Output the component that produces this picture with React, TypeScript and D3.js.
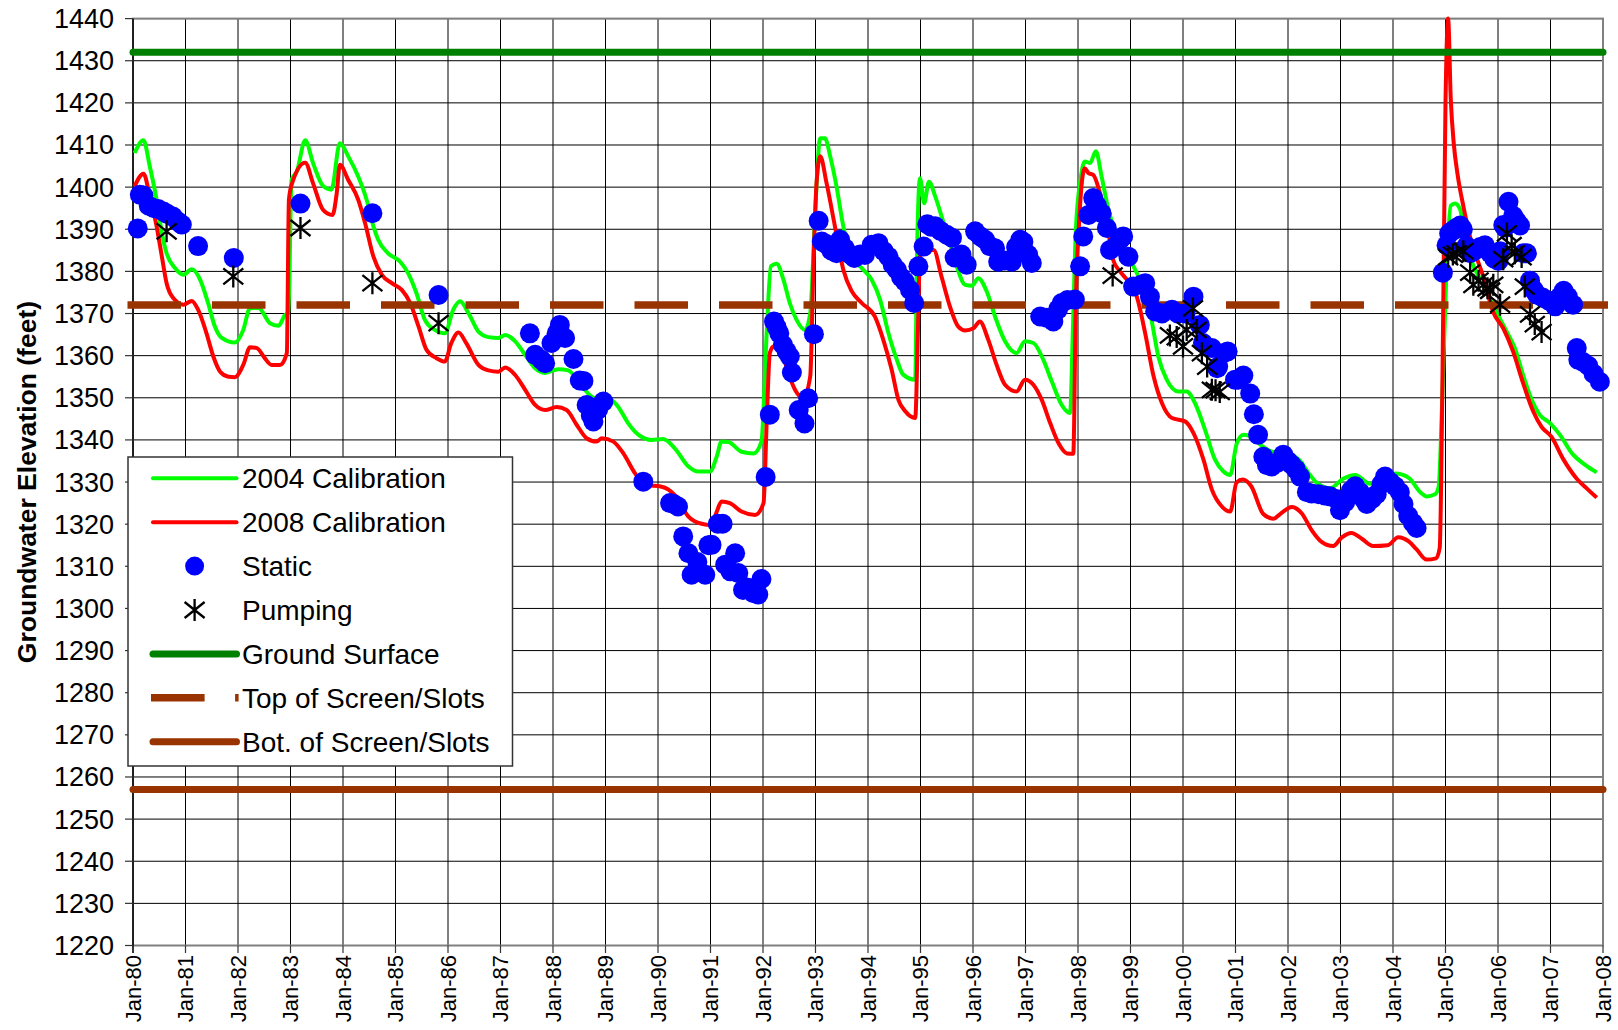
import React from "react";
import * as d3 from "d3";

const yearLabels = [
  "Jan-80", "Jan-81", "Jan-82", "Jan-83", "Jan-84", "Jan-85", "Jan-86",
  "Jan-87", "Jan-88", "Jan-89", "Jan-90", "Jan-91", "Jan-92", "Jan-93",
  "Jan-94", "Jan-95", "Jan-96", "Jan-97", "Jan-98", "Jan-99", "Jan-00",
  "Jan-01", "Jan-02", "Jan-03", "Jan-04", "Jan-05", "Jan-06", "Jan-07",
  "Jan-08",
];
const elevationTicks = [
  1220, 1230, 1240, 1250, 1260, 1270, 1280, 1290, 1300, 1310, 1320, 1330,
  1340, 1350, 1360, 1370, 1380, 1390, 1400, 1410, 1420, 1430, 1440,
];

const groundSurface = 1432;
const screenTop = 1372;
const screenBottom = 1257;

// [decimal year, elevation ft]
const calib2004: [number, number][] = [
  [1980.03, 1408.1], [1980.2, 1411.1], [1980.32, 1404.9], [1980.45, 1397.0],
  [1980.55, 1389.1], [1980.64, 1384.3], [1980.8, 1380.8], [1980.96, 1379.2],
  [1981.12, 1380.5], [1981.28, 1378.0], [1981.43, 1372.5], [1981.56, 1366.9],
  [1981.69, 1364.2], [1981.94, 1363.1], [1982.1, 1366.1], [1982.23, 1371.3],
  [1982.39, 1371.3], [1982.61, 1367.7], [1982.77, 1367.1], [1982.9, 1369.7],
  [1982.96, 1370.1], [1983.02, 1401.7], [1983.12, 1403.7], [1983.28, 1411.1],
  [1983.43, 1405.7], [1983.62, 1400.3], [1983.78, 1399.4], [1983.94, 1410.4],
  [1984.1, 1407.3], [1984.29, 1402.5], [1984.45, 1397.0], [1984.58, 1390.7],
  [1984.67, 1387.5], [1984.86, 1384.3], [1985.09, 1382.3], [1985.24, 1379.6],
  [1985.4, 1374.8], [1985.56, 1368.5], [1985.75, 1366.1], [1985.94, 1365.3],
  [1986.1, 1370.9], [1986.23, 1372.9], [1986.39, 1370.1], [1986.58, 1365.7],
  [1986.77, 1364.4], [1986.96, 1364.2], [1987.09, 1364.9], [1987.28, 1363.4],
  [1987.47, 1360.2], [1987.66, 1357.0], [1987.85, 1355.9], [1988.1, 1356.8],
  [1988.29, 1356.5], [1988.55, 1352.7], [1988.8, 1349.9], [1989.05, 1349.9],
  [1989.24, 1347.9], [1989.43, 1344.0], [1989.63, 1341.2], [1989.88, 1340.0],
  [1990.1, 1340.2], [1990.32, 1338.0], [1990.58, 1333.7], [1990.77, 1332.5],
  [1990.99, 1332.5], [1991.12, 1336.1], [1991.21, 1339.6], [1991.34, 1339.5],
  [1991.59, 1337.2], [1991.82, 1336.8], [1991.97, 1339.6], [1992.07, 1365.3],
  [1992.15, 1381.2], [1992.26, 1381.8], [1992.39, 1378.0], [1992.51, 1372.5],
  [1992.64, 1368.5], [1992.8, 1366.1], [1992.9, 1370.1], [1992.99, 1393.0],
  [1993.09, 1411.6], [1993.18, 1411.6], [1993.28, 1407.3], [1993.4, 1400.2],
  [1993.53, 1390.7], [1993.69, 1383.5], [1993.88, 1380.8], [1994.07, 1378.0],
  [1994.23, 1373.3], [1994.39, 1365.3], [1994.55, 1359.0], [1994.67, 1355.5],
  [1994.9, 1354.3], [1994.93, 1381.2], [1994.99, 1402.1], [1995.07, 1396.2],
  [1995.16, 1401.3], [1995.28, 1397.8], [1995.44, 1391.5], [1995.56, 1386.7],
  [1995.69, 1381.2], [1995.85, 1376.8], [1995.98, 1376.6], [1996.1, 1378.4],
  [1996.26, 1375.3], [1996.42, 1369.3], [1996.61, 1363.4], [1996.83, 1360.6],
  [1996.99, 1363.4], [1997.15, 1363.0], [1997.34, 1359.0], [1997.5, 1353.9],
  [1997.69, 1348.3], [1997.85, 1346.4], [1997.9, 1365.0], [1997.96, 1390.0],
  [1998.05, 1402.0], [1998.13, 1406.1], [1998.23, 1405.7], [1998.34, 1408.5],
  [1998.45, 1402.5], [1998.58, 1394.6], [1998.77, 1387.5], [1998.96, 1383.5],
  [1999.15, 1378.8], [1999.28, 1374.8], [1999.4, 1368.5], [1999.53, 1359.8],
  [1999.69, 1354.3], [1999.91, 1351.5], [2000.07, 1351.5], [2000.23, 1348.7],
  [2000.42, 1342.4], [2000.61, 1335.3], [2000.77, 1332.5], [2000.9, 1331.7],
  [2001.02, 1339.0], [2001.15, 1341.2], [2001.3, 1340.8], [2001.5, 1338.6],
  [2001.7, 1337.2], [2002.0, 1336.6], [2002.22, 1335.2], [2002.4, 1332.0],
  [2002.55, 1329.8], [2002.8, 1328.5], [2003.05, 1330.8], [2003.28, 1331.7],
  [2003.56, 1329.6], [2003.82, 1330.8], [2004.05, 1332.0], [2004.3, 1331.0],
  [2004.52, 1327.6], [2004.64, 1326.6], [2004.8, 1327.1], [2004.87, 1328.9],
  [2004.94, 1350.6], [2005.02, 1380.6], [2005.1, 1395.6], [2005.18, 1396.1],
  [2005.28, 1394.7], [2005.37, 1388.1], [2005.47, 1383.4], [2005.72, 1376.8],
  [2005.97, 1370.3], [2006.17, 1365.6], [2006.32, 1361.8], [2006.48, 1355.3],
  [2006.64, 1349.6], [2006.8, 1345.9], [2006.99, 1344.0], [2007.18, 1341.2],
  [2007.43, 1336.5], [2007.66, 1334.1], [2007.88, 1332.3],
];

const calib2008: [number, number][] = [
  [1980.03, 1400.2], [1980.2, 1403.2], [1980.32, 1397.8], [1980.45, 1390.7],
  [1980.55, 1383.5], [1980.64, 1377.2], [1980.77, 1373.6], [1980.96, 1372.1],
  [1981.12, 1373.0], [1981.24, 1370.9], [1981.4, 1365.3], [1981.53, 1359.8],
  [1981.66, 1356.2], [1981.82, 1355.0], [1981.94, 1354.9], [1982.1, 1357.8],
  [1982.23, 1362.0], [1982.36, 1361.8], [1982.51, 1359.4], [1982.64, 1357.8],
  [1982.8, 1357.8], [1982.93, 1360.6], [1982.97, 1397.0], [1983.02, 1400.5],
  [1983.28, 1405.8], [1983.43, 1400.9], [1983.62, 1394.6], [1983.8, 1393.4],
  [1983.88, 1398.5], [1983.94, 1405.3], [1984.1, 1401.7], [1984.29, 1397.0],
  [1984.42, 1391.5], [1984.58, 1383.5], [1984.74, 1379.2], [1984.93, 1377.2],
  [1985.12, 1375.6], [1985.28, 1372.5], [1985.44, 1366.9], [1985.59, 1361.4],
  [1985.78, 1359.4], [1985.94, 1358.6], [1986.06, 1362.9], [1986.2, 1365.5],
  [1986.35, 1362.9], [1986.58, 1357.8], [1986.77, 1356.5], [1986.96, 1356.2],
  [1987.09, 1357.2], [1987.28, 1355.4], [1987.47, 1351.9], [1987.66, 1348.3],
  [1987.85, 1347.1], [1988.07, 1347.8], [1988.26, 1347.1], [1988.45, 1343.6],
  [1988.64, 1340.4], [1988.83, 1339.6], [1988.93, 1340.4], [1989.15, 1339.6],
  [1989.34, 1336.8], [1989.56, 1332.1], [1989.75, 1329.3], [1990.07, 1328.9],
  [1990.32, 1326.9], [1990.58, 1321.8], [1990.83, 1320.1], [1991.02, 1319.8],
  [1991.12, 1323.0], [1991.21, 1325.4], [1991.37, 1325.0], [1991.59, 1323.0],
  [1991.85, 1322.2], [1992.01, 1325.0], [1992.07, 1344.0], [1992.13, 1360.6],
  [1992.2, 1362.2], [1992.36, 1360.6], [1992.48, 1355.9], [1992.61, 1351.9],
  [1992.77, 1349.9], [1992.9, 1355.1], [1992.96, 1381.2], [1993.02, 1401.0],
  [1993.09, 1407.3], [1993.21, 1401.0], [1993.37, 1390.7], [1993.53, 1380.4],
  [1993.69, 1375.3], [1993.88, 1372.5], [1994.13, 1369.3], [1994.29, 1363.8],
  [1994.45, 1356.7], [1994.58, 1349.5], [1994.71, 1346.8], [1994.9, 1345.2],
  [1994.95, 1365.3], [1994.99, 1383.5], [1995.12, 1385.1], [1995.25, 1385.1],
  [1995.4, 1378.8], [1995.56, 1371.7], [1995.72, 1366.9], [1995.85, 1366.0],
  [1996.01, 1366.5], [1996.13, 1368.1], [1996.29, 1363.8], [1996.45, 1357.8],
  [1996.61, 1353.1], [1996.83, 1351.5], [1996.99, 1354.3], [1997.15, 1353.1],
  [1997.31, 1349.5], [1997.47, 1344.0], [1997.63, 1339.2], [1997.79, 1336.8],
  [1997.91, 1336.7], [1997.96, 1373.3], [1998.01, 1389.1], [1998.13, 1404.5],
  [1998.2, 1403.3], [1998.29, 1402.9], [1998.42, 1398.5], [1998.55, 1391.5],
  [1998.67, 1382.7], [1998.8, 1380.0], [1998.96, 1377.6], [1999.12, 1374.0],
  [1999.28, 1365.3], [1999.44, 1355.1], [1999.6, 1348.7], [1999.79, 1345.2],
  [2000.04, 1344.4], [2000.2, 1341.6], [2000.39, 1335.3], [2000.55, 1328.2],
  [2000.74, 1324.2], [2000.9, 1323.0], [2001.02, 1329.9], [2001.14, 1330.6],
  [2001.3, 1329.0], [2001.53, 1322.4], [2001.72, 1321.3], [2001.85, 1322.4],
  [2002.07, 1324.1], [2002.26, 1322.6], [2002.45, 1318.6], [2002.64, 1315.8],
  [2002.86, 1314.8], [2003.02, 1316.8], [2003.21, 1317.9], [2003.4, 1316.6],
  [2003.62, 1314.8], [2003.9, 1315.0], [2004.1, 1316.9], [2004.3, 1315.9],
  [2004.45, 1314.0], [2004.64, 1311.6], [2004.82, 1311.9], [2004.89, 1314.4],
  [2004.94, 1352.0], [2005.0, 1420.0], [2005.05, 1440.0], [2005.1, 1421.0],
  [2005.16, 1410.0], [2005.23, 1403.0], [2005.34, 1395.5], [2005.47, 1388.1],
  [2005.72, 1378.7], [2005.91, 1370.3], [2006.1, 1366.5], [2006.29, 1360.9],
  [2006.48, 1353.4], [2006.67, 1346.8], [2006.83, 1343.1], [2007.02, 1340.7],
  [2007.24, 1335.5], [2007.5, 1330.8], [2007.69, 1328.5], [2007.88, 1326.3],
];

const staticLevels: [number, number][] = [
  [1980.09, 1390.2], [1980.13, 1398.2], [1980.2, 1398.0], [1980.3, 1395.6],
  [1980.4, 1395.0], [1980.48, 1394.8], [1980.58, 1394.2], [1980.66, 1393.6],
  [1980.76, 1393.0], [1980.86, 1391.8], [1980.93, 1391.1], [1981.24, 1386.0],
  [1981.92, 1383.2], [1983.19, 1396.1], [1984.56, 1393.8], [1985.82, 1374.4],
  [1987.56, 1365.3], [1987.66, 1360.2], [1987.78, 1359.0], [1987.85, 1358.2],
  [1987.97, 1363.0], [1988.07, 1365.3], [1988.13, 1367.3], [1988.23, 1364.2],
  [1988.39, 1359.2], [1988.51, 1354.1], [1988.58, 1354.0], [1988.64, 1348.3],
  [1988.72, 1345.8], [1988.77, 1344.4], [1988.86, 1347.2], [1988.96, 1349.1],
  [1989.72, 1330.1], [1990.23, 1325.0], [1990.3, 1324.8], [1990.38, 1324.2],
  [1990.48, 1317.1], [1990.58, 1313.1], [1990.64, 1308.0], [1990.75, 1311.0],
  [1990.9, 1308.0], [1990.96, 1315.0], [1991.02, 1315.1], [1991.14, 1320.1],
  [1991.23, 1320.1], [1991.28, 1310.4], [1991.38, 1308.8], [1991.47, 1313.1],
  [1991.53, 1308.4], [1991.62, 1304.4], [1991.7, 1305.0], [1991.82, 1303.6],
  [1991.91, 1303.3], [1991.97, 1307.0], [1992.05, 1331.2], [1992.13, 1346.0],
  [1992.21, 1368.1], [1992.26, 1366.8], [1992.31, 1365.3], [1992.38, 1362.6],
  [1992.45, 1361.0], [1992.51, 1359.8], [1992.55, 1356.0], [1992.68, 1347.1],
  [1992.79, 1343.9], [1992.86, 1349.9], [1992.97, 1365.1], [1993.06, 1392.0],
  [1993.12, 1387.1], [1993.2, 1386.5], [1993.3, 1385.0], [1993.4, 1384.3],
  [1993.47, 1387.5], [1993.56, 1385.5], [1993.66, 1384.0], [1993.74, 1383.2],
  [1993.85, 1384.0], [1993.94, 1383.9], [1994.07, 1386.3], [1994.2, 1386.7],
  [1994.3, 1384.8], [1994.39, 1383.5], [1994.47, 1381.6], [1994.55, 1380.4],
  [1994.63, 1378.6], [1994.7, 1377.6], [1994.8, 1375.6], [1994.88, 1372.5],
  [1994.96, 1381.2], [1995.06, 1385.9], [1995.13, 1391.2], [1995.2, 1390.6],
  [1995.28, 1390.7], [1995.38, 1389.6], [1995.5, 1388.7], [1995.6, 1388.0],
  [1995.65, 1383.3], [1995.78, 1384.0], [1995.88, 1381.6], [1996.04, 1389.5],
  [1996.14, 1388.3], [1996.23, 1387.5], [1996.32, 1386.0], [1996.42, 1385.5],
  [1996.48, 1382.3], [1996.6, 1382.6], [1996.74, 1382.3], [1996.82, 1385.8],
  [1996.9, 1387.5], [1996.96, 1387.0], [1997.05, 1384.0], [1997.12, 1382.0],
  [1997.28, 1369.3], [1997.4, 1369.0], [1997.53, 1368.1], [1997.62, 1371.0],
  [1997.69, 1372.5], [1997.8, 1373.2], [1997.94, 1373.3], [1998.04, 1381.2],
  [1998.1, 1388.3], [1998.2, 1393.4], [1998.29, 1397.4], [1998.36, 1395.6],
  [1998.45, 1393.8], [1998.55, 1390.3], [1998.61, 1385.1], [1998.72, 1386.0],
  [1998.8, 1387.5], [1998.86, 1388.3], [1998.96, 1383.5], [1999.05, 1376.4],
  [1999.2, 1376.8], [1999.28, 1377.2], [1999.37, 1374.0], [1999.47, 1370.5],
  [1999.6, 1370.0], [1999.79, 1370.9], [1999.9, 1370.0], [2000.05, 1370.0],
  [2000.2, 1374.0], [2000.32, 1367.3], [2000.38, 1363.0], [2000.55, 1361.8],
  [2000.65, 1357.0], [2000.67, 1357.4], [2000.77, 1360.6], [2000.85, 1361.0],
  [2000.99, 1354.3], [2001.05, 1354.3], [2001.15, 1355.3], [2001.28, 1351.0],
  [2001.35, 1346.1], [2001.43, 1341.2], [2001.53, 1336.0], [2001.6, 1334.0],
  [2001.69, 1333.7], [2001.8, 1334.6], [2001.91, 1336.5], [2002.0, 1335.0],
  [2002.07, 1334.1], [2002.15, 1333.0], [2002.23, 1331.3], [2002.36, 1327.6],
  [2002.45, 1327.3], [2002.58, 1327.1], [2002.7, 1326.8], [2002.8, 1326.6],
  [2002.92, 1326.0], [2002.99, 1323.3], [2003.09, 1325.2], [2003.2, 1328.0],
  [2003.28, 1329.0], [2003.37, 1327.6], [2003.44, 1326.0], [2003.5, 1324.8],
  [2003.6, 1326.0], [2003.69, 1327.1], [2003.78, 1329.5], [2003.85, 1331.3],
  [2003.95, 1330.0], [2004.04, 1329.0], [2004.13, 1327.6], [2004.2, 1324.8],
  [2004.29, 1322.0], [2004.38, 1320.3], [2004.45, 1319.1], [2004.95, 1379.7],
  [2005.02, 1386.2], [2005.07, 1389.0], [2005.12, 1389.5], [2005.2, 1390.3],
  [2005.28, 1390.9], [2005.33, 1390.0], [2005.4, 1386.0], [2005.47, 1384.3],
  [2005.56, 1385.0], [2005.66, 1385.8], [2005.75, 1386.2], [2005.85, 1384.3],
  [2005.93, 1383.0], [2006.01, 1382.5], [2006.04, 1384.8], [2006.1, 1391.0],
  [2006.13, 1390.4], [2006.2, 1396.5], [2006.29, 1393.2], [2006.35, 1392.0],
  [2006.42, 1390.9], [2006.48, 1384.3], [2006.55, 1384.3], [2006.61, 1377.8],
  [2006.68, 1375.6], [2006.74, 1374.5], [2006.85, 1373.8], [2006.96, 1373.1],
  [2007.09, 1371.7], [2007.18, 1374.0], [2007.25, 1375.4], [2007.33, 1374.0],
  [2007.43, 1372.1], [2007.5, 1361.8], [2007.53, 1359.0], [2007.62, 1358.5],
  [2007.72, 1357.6], [2007.82, 1355.7], [2007.94, 1353.8],
];

const pumpingLevels: [number, number][] = [
  [1980.64, 1389.5], [1981.91, 1378.8], [1983.19, 1390.3], [1984.56, 1377.2],
  [1985.82, 1367.7], [1998.66, 1379.0], [1999.75, 1364.8], [1999.88, 1364.4],
  [2000.0, 1362.2], [2000.07, 1366.1], [2000.19, 1371.2], [2000.26, 1366.1],
  [2000.36, 1360.6], [2000.46, 1357.4], [2000.55, 1351.9], [2000.62, 1351.8],
  [2000.7, 1351.4], [2005.05, 1383.4], [2005.14, 1384.0], [2005.21, 1384.3],
  [2005.34, 1384.8], [2005.47, 1379.7], [2005.53, 1376.8], [2005.63, 1377.8],
  [2005.72, 1376.8], [2005.8, 1376.0], [2005.85, 1375.4], [2005.91, 1376.8],
  [2006.04, 1372.1], [2006.1, 1382.9], [2006.17, 1389.0], [2006.26, 1386.2],
  [2006.32, 1384.3], [2006.45, 1383.4], [2006.51, 1376.4], [2006.61, 1369.8],
  [2006.7, 1367.5], [2006.83, 1365.6],
];

const legendLabels = [
  "2004 Calibration",
  "2008 Calibration",
  "Static",
  "Pumping",
  "Ground Surface",
  "Top of Screen/Slots",
  "Bot. of Screen/Slots",
];

const FONT = "'Liberation Sans', Arial, Helvetica, sans-serif";
const W = 1618;
const H = 1030;
const left = 133;
const right = 1603;
const top = 18.6;
const bottom = 945.5;

const starPath = "M-10,-8L10,8M-10,8L10,-8M0,-11L0,11";

const App: React.FC = () => {
  const x = d3.scaleLinear().domain([1980, 2008]).range([left, right]);
  const y = d3.scaleLinear().domain([1220, 1440]).range([bottom, top]);

  const line = d3
    .line<[number, number]>()
    .x((d) => x(d[0]))
    .y((d) => y(d[1]))
    .curve(d3.curveMonotoneX);

  const years = yearLabels.map((_, i) => 1980 + i);
  const legendY = (i: number) => 478.3 + i * 43.9;

  return (
    <svg
      width={W}
      height={H}
      style={{ position: "absolute", left: 0, top: 0, background: "#fff" }}
      fontFamily={FONT}
    >
      <rect x={0} y={0} width={W} height={H} fill="#fff" />

      {/* grid */}
      <g stroke="#000" strokeWidth={1}>
        {elevationTicks.map((t) => (
          <line key={"h" + t} x1={left} x2={right} y1={y(t)} y2={y(t)} />
        ))}
        {years.map((yr) => (
          <line key={"v" + yr} x1={x(yr)} x2={x(yr)} y1={top} y2={bottom} />
        ))}
      </g>
      <rect
        x={left}
        y={top}
        width={right - left}
        height={bottom - top}
        fill="none"
        stroke="#808080"
        strokeWidth={2}
      />
      <line x1={left} x2={left} y1={top} y2={bottom + 7.5} stroke="#000" strokeWidth={1.5} />

      {/* ticks */}
      <g stroke="#333" strokeWidth={1.2}>
        {elevationTicks.map((t) => (
          <line key={"yt" + t} x1={left - 8} x2={left} y1={y(t)} y2={y(t)} />
        ))}
        {years.map((yr) => (
          <line key={"xt" + yr} x1={x(yr)} x2={x(yr)} y1={bottom} y2={bottom + 7.5} />
        ))}
      </g>

      {/* calibration lines */}
      <path d={line(calib2004) || ""} fill="none" stroke="#00ff00" strokeWidth={4} strokeLinejoin="round" />
      <path d={line(calib2008) || ""} fill="none" stroke="#ff0000" strokeWidth={4} strokeLinejoin="round" />

      {/* reference levels */}
      <line
        x1={x(1980)}
        x2={x(2008)}
        y1={y(groundSurface)}
        y2={y(groundSurface)}
        stroke="#008000"
        strokeWidth={7}
        strokeLinecap="round"
      />
      <line
        x1={x(1980) - 5.5}
        x2={x(2008) + 5}
        y1={y(screenTop)}
        y2={y(screenTop)}
        stroke="#993300"
        strokeWidth={7.5}
        strokeDasharray="53.5 31"
      />
      <line
        x1={x(1980)}
        x2={x(2008)}
        y1={y(screenBottom)}
        y2={y(screenBottom)}
        stroke="#993300"
        strokeWidth={7}
        strokeLinecap="round"
      />

      {/* observations */}
      <g fill="#0000ff">
        {staticLevels.map((d, i) => (
          <circle key={"s" + i} cx={x(d[0])} cy={y(d[1])} r={10} />
        ))}
      </g>
      <g stroke="#000" strokeWidth={2.3} fill="none">
        {pumpingLevels.map((d, i) => (
          <path key={"p" + i} d={starPath} transform={`translate(${x(d[0])},${y(d[1])})`} />
        ))}
      </g>

      {/* tick labels */}
      <g fontSize={27} fill="#000" textAnchor="end">
        {elevationTicks.map((t) => (
          <text key={"yl" + t} x={114} y={y(t)} dy="0.35em">
            {t}
          </text>
        ))}
      </g>
      <g fontSize={22} fill="#000" textAnchor="end">
        {years.map((yr, i) => (
          <text
            key={"xl" + yr}
            transform={`translate(${x(yr)},955) rotate(-90)`}
            dy="0.35em"
          >
            {yearLabels[i]}
          </text>
        ))}
      </g>
      <text
        transform={`translate(35.5,${(top + bottom) / 2}) rotate(-90)`}
        textAnchor="middle"
        fontSize={26.5}
        fontWeight="bold"
        fill="#000"
      >
        Groundwater Elevation (feet)
      </text>

      {/* legend */}
      <rect x={128} y={457} width={384.5} height={309} fill="#fff" stroke="#333" strokeWidth={1.5} />
      {legendLabels.map((label, i) => {
        const ly = legendY(i);
        let sample: React.ReactNode = null;
        if (i === 0 || i === 1) {
          sample = (
            <line x1={153} x2={236.5} y1={ly} y2={ly} stroke={i === 0 ? "#00ff00" : "#ff0000"} strokeWidth={4} strokeLinecap="round" />
          );
        } else if (i === 2) {
          sample = <circle cx={194.6} cy={ly} r={9.5} fill="#0000ff" />;
        } else if (i === 3) {
          sample = (
            <path d={starPath} transform={`translate(194.6,${ly})`} stroke="#000" strokeWidth={2.3} fill="none" />
          );
        } else if (i === 4) {
          sample = <line x1={153} x2={236.5} y1={ly} y2={ly} stroke="#008000" strokeWidth={7} strokeLinecap="round" />;
        } else if (i === 5) {
          sample = (
            <line x1={151} x2={238.6} y1={ly} y2={ly} stroke="#993300" strokeWidth={7.5} strokeDasharray="53.6 30.5" />
          );
        } else {
          sample = <line x1={153} x2={236.5} y1={ly} y2={ly} stroke="#993300" strokeWidth={7} strokeLinecap="round" />;
        }
        return (
          <g key={label}>
            {sample}
            <text x={242} y={ly} dy="0.35em" fontSize={28} fill="#000">
              {label}
            </text>
          </g>
        );
      })}
    </svg>
  );
};

export default App;
